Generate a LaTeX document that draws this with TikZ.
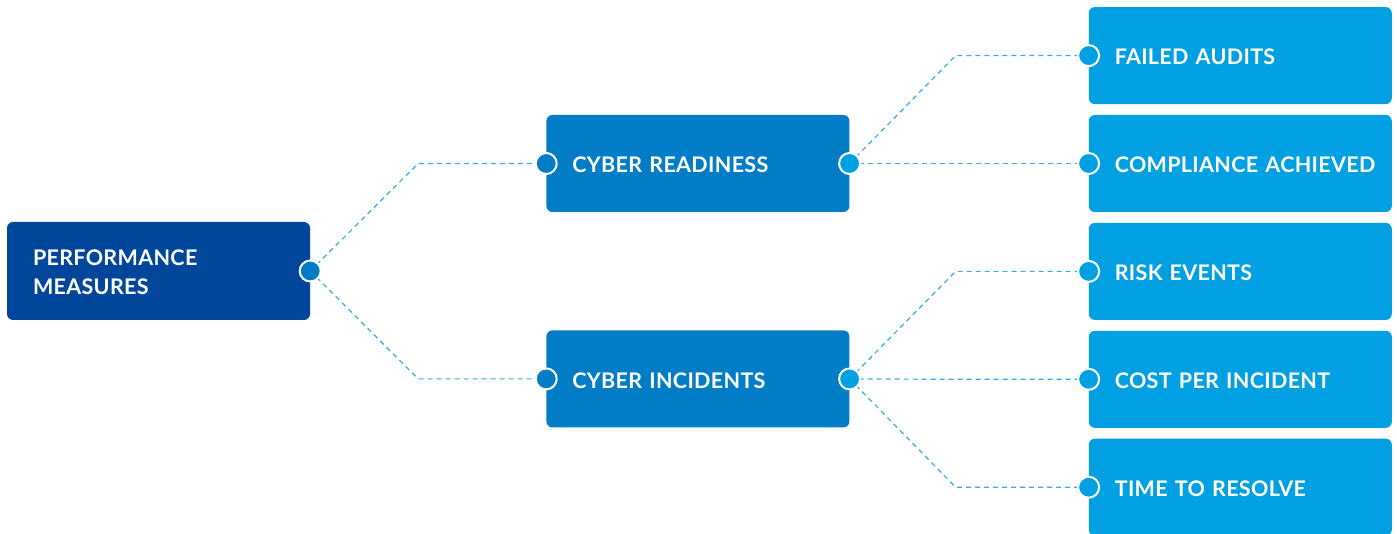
\documentclass[tikz,border=0pt]{standalone}
\usepackage{fontspec}
\setsansfont{Lato}[LetterSpace=1.5]
\usepackage{tikz}
\usetikzlibrary{positioning, calc}

\definecolor{fonce}{HTML}{00479B}
\definecolor{moyen}{HTML}{007DC6}
\definecolor{clair}{HTML}{00A0E3}
\definecolor{trait}{HTML}{38AAE6}

\begin{document}
\begin{tikzpicture}[
  x=1pt, y=1pt,
  font=\sffamily\bfseries\fontsize{21.5}{29}\selectfont,
  node distance=10.5pt and 236pt,
  bloc/.style={
    rectangle,
    rounded corners=6pt,
    minimum height=97pt,
    text width=251pt,
    text height=18.5pt,
    text depth=0pt,
    inner xsep=26pt,
    inner ysep=0pt,
    align=left,
    text=white
  },
  racine/.style={bloc, fill=fonce, minimum height=98pt, text depth=29pt},
  branche/.style={bloc, fill=moyen},
  feuille/.style={bloc, fill=clair},
  lien/.style={
    draw=trait,
    line width=1.2pt,
    dash pattern=on 5pt off 4pt
  },
  pastille/.style={
    circle,
    draw=white,
    line width=2pt,
    minimum size=21pt,
    inner sep=0pt
  }
]
  \useasboundingbox (0,0) rectangle (1397,533);

  \node[racine] (m0) at (158.5,262) {PERFORMANCE\\MEASURES};
  \node[branche, right=236pt of m0, yshift=107.5pt] (m1) {CYBER READINESS};
  \node[branche, below=118pt of m1] (m2) {CYBER INCIDENTS};

  \node[feuille, right=239pt of m1] (f2) {COMPLIANCE~ACHIEVED};
  \node[feuille, above=of f2] (f1) {FAILED AUDITS};
  \node[feuille, below=of f2] (f3) {RISK EVENTS};
  \node[feuille, below=of f3] (f4) {COST PER INCIDENT};
  \node[feuille, below=of f4] (f5) {TIME TO RESOLVE};

  % liens pointilles, coude a 45 degres puis horizontal
  \foreach \a/\b in {m0/m1, m0/m2} {
    \draw[lien] (\a.east) -- ($(\b.west)+(-128,0)$) -- (\b.west);
  }
  \foreach \a/\b in {m1/f1, m1/f2, m2/f3, m2/f4, m2/f5} {
    \draw[lien] (\a.east) -- ($(\b.west)+(-133,0)$) -- (\b.west);
  }

  \node[pastille, fill=moyen] (m0-d) at (m0.east) {};
  \foreach \n in {m1, m2} {
    \node[pastille, fill=moyen] (\n-g) at (\n.west) {};
    \node[pastille, fill=clair] (\n-d) at (\n.east) {};
  }
  \foreach \n in {f1, f2, f3, f4, f5} {
    \node[pastille, fill=clair] (\n-g) at (\n.west) {};
  }
\end{tikzpicture}
\end{document}
